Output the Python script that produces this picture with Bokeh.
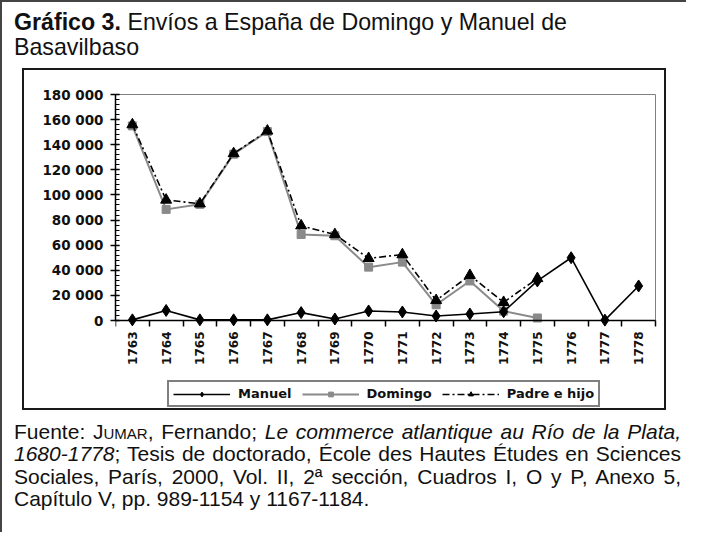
import math
from bokeh.plotting import figure
from bokeh.models import Div, Spacer, Range1d, FixedTicker, Legend, LegendItem
from bokeh.layouts import column, row
from bokeh.embed import file_html
from bokeh.resources import INLINE

# ---- data ----
years = list(range(1763, 1779))
manuel = [500, 8000, 500, 500, 500, 6300, 1200, 7600, 6800, 3600, 5200, 7000, 31500, 50000, 300, 27500]
domingo_years = list(range(1763, 1776))
domingo = [155000, 88500, 92500, 132500, 150500, 68500, 67500, 42500, 46500, 12500, 31500, 7500, 2000]
padre_years = list(range(1763, 1776))
padre = [156000, 96000, 93000, 133000, 151000, 75500, 68500, 49500, 52500, 16000, 36000, 14500, 33500]
series_names = ["Manuel", "Domingo", "Padre e hijo"]
y_ticks = [0, 20000, 40000, 60000, 80000, 100000, 120000, 140000, 160000, 180000]
y_tick_labels = ["0", "20 000", "40 000", "60 000", "80 000", "100 000",
                 "120 000", "140 000", "160 000", "180 000"]
y_minor = list(range(0, 180001, 4000))
x_boundaries = [y - 0.5 for y in years] + [years[-1] + 0.5]

AX_FONT = "DejaVu Sans"
GRAY = "#8a8a8a"

# ---- layout geometry (pixels inside the chart canvas) ----
W, H = 644, 342            # canvas size
LEFT, RIGHT_PAD, TOP_PAD = 91, 10, 20
PLOT_W, PLOT_H = 540, 226  # drawn plot box size
PLOT_TOP_OFF = 4           # plot box top below frame top
frame_h = H - TOP_PAD
frame_w = W - LEFT - RIGHT_PAD

x0, x1 = years[0] - 0.5, years[-1] + 0.5
y_top = y_ticks[-1]
ux = (x1 - x0) / PLOT_W
uy = y_top / PLOT_H
x_end = x0 + frame_w * ux
y_end = y_top + PLOT_TOP_OFF * uy
y_start = y_top - (frame_h - PLOT_TOP_OFF) * uy

STYLE = {
    "Manuel": dict(line=dict(line_color="black", line_width=1.6),
                   mark=dict(marker="diamond", size=12, color="black")),
    "Domingo": dict(line=dict(line_color=GRAY, line_width=2),
                    mark=dict(marker="square", size=8, color=GRAY)),
    "Padre e hijo": dict(line=dict(line_color="black", line_width=1.6, line_dash="7 3 2 3"),
                         mark=dict(marker="triangle", size=11, color="black")),
}

p = figure(width=W, height=H,
           x_range=Range1d(x0, x_end), y_range=Range1d(y_start, y_end),
           output_backend="svg", toolbar_location=None,
           min_border_left=LEFT, min_border_right=RIGHT_PAD,
           min_border_top=TOP_PAD, min_border_bottom=0,
           styles={"border": "2px solid #1a1a1a"})
p.outline_line_color = None
p.xgrid.visible = False
p.ygrid.visible = False

# plot-area box
p.quad(left=[x0], right=[x1], bottom=[0], top=[y_top],
       fill_color=None, line_color="#808080", line_width=1)

# x axis sits at y = 0 inside the frame
xa = p.xaxis[0]
xa.fixed_location = 0
xa.bounds = (x0, x1)
xa.ticker = FixedTicker(ticks=years, minor_ticks=x_boundaries)
xa.major_tick_line_color = None
xa.major_tick_out = 6
xa.major_tick_in = 0
xa.minor_tick_out = 6
xa.minor_tick_in = 0
xa.minor_tick_line_color = "black"
xa.minor_tick_line_width = 1.5
xa.major_label_orientation = math.pi / 2
xa.major_label_standoff = 5
xa.major_label_text_font_size = "12px"

ya = p.yaxis[0]
ya.bounds = (0, y_top)
ya.ticker = FixedTicker(ticks=y_ticks, minor_ticks=y_minor)
ya.major_label_overrides = dict(zip(y_ticks, y_tick_labels))
ya.major_tick_out = 5
ya.major_tick_in = 4
ya.minor_tick_in = 4
ya.minor_tick_out = 0
ya.major_tick_line_width = 1.5
ya.minor_tick_line_width = 1.2
ya.major_tick_line_color = "black"
ya.minor_tick_line_color = "black"
ya.major_label_standoff = 7
ya.major_label_text_font_size = "13.5px"

for ax in (xa, ya):
    ax.axis_line_color = "black"
    ax.axis_line_width = 1.5
    ax.major_label_text_font = AX_FONT
    ax.major_label_text_font_style = "bold"
    ax.major_label_text_color = "#111111"

rend = {}
d_line = p.line(domingo_years, domingo, **STYLE["Domingo"]["line"])
d_mark = p.scatter(domingo_years, domingo, **STYLE["Domingo"]["mark"])
m_line = p.line(years, manuel, **STYLE["Manuel"]["line"])
m_mark = p.scatter(years, manuel, **STYLE["Manuel"]["mark"])
f_line = p.line(padre_years, padre, **STYLE["Padre e hijo"]["line"])
f_mark = p.scatter(padre_years, padre, **STYLE["Padre e hijo"]["mark"])
rend["Manuel"] = [m_line, m_mark]
rend["Domingo"] = [d_line, d_mark]
rend["Padre e hijo"] = [f_line, f_mark]

legend = Legend(items=[LegendItem(label=n, renderers=rend[n]) for n in series_names],
                orientation="horizontal", location=(52, 5))
legend.border_line_color = "black"
legend.border_line_width = 2
legend.background_fill_color = "white"
legend.background_fill_alpha = 1
legend.label_text_font = AX_FONT
legend.label_text_font_style = "bold"
legend.label_text_font_size = "13px"
legend.label_text_color = "#111111"
legend.glyph_width = 57
legend.glyph_height = 12
legend.label_height = 12
legend.label_standoff = 8
legend.spacing = 10
legend.padding = 4
legend.margin = 0
p.add_layout(legend)

# ---------------- texts ----------------
title_html = ('<div style="padding-left:12px; padding-top:8px; font-family:\'Liberation Sans\', Arial, sans-serif; '
              'font-size:23.2px; line-height:25px; color:#111; white-space:nowrap;">'
              '<b>Gráfico 3.</b> Envíos a España de Domingo y Manuel de<br>Basavilbaso</div>')
title_div = Div(text=title_html, width=684, height=66, margin=0)

line_style = "text-align:justify; text-align-last:justify; white-space:nowrap;"
footer_lines = [
    'Fuente: J<span style="font-variant:small-caps">umar</span>, Fernando; '
    '<i>Le commerce atlantique au Río de la Plata,</i>',
    '<i>1680-1778</i>; Tesis de doctorado, École des Hautes Études en Sciences',
    'Sociales, París, 2000, Vol. II, 2ª sección, Cuadros I, O y P, Anexo 5,',
    'Capítulo V, pp. 989-1154 y 1167-1184.',
]
footer_html = ('<div style="margin-left:12px; padding-top:7px; width:667px; font-family:\'Liberation Sans\', Arial, sans-serif; '
               'font-size:21px; line-height:22.3px; color:#111;">')
for i, ln in enumerate(footer_lines):
    if i < len(footer_lines) - 1:
        footer_html += f'<div style="{line_style}">{ln}</div>'
    else:
        footer_html += f'<div style="text-align:left; white-space:nowrap;">{ln}</div>'
footer_html += '</div>'
footer_div = Div(text=footer_html, width=684, height=118, margin=0)

layout = column(title_div,
                row(Spacer(width=20, height=H + 4), p),
                footer_div,
                styles={"border-top": "2px solid #444", "border-left": "2px solid #444"})

open("out.html", "w").write(file_html(layout, INLINE))
